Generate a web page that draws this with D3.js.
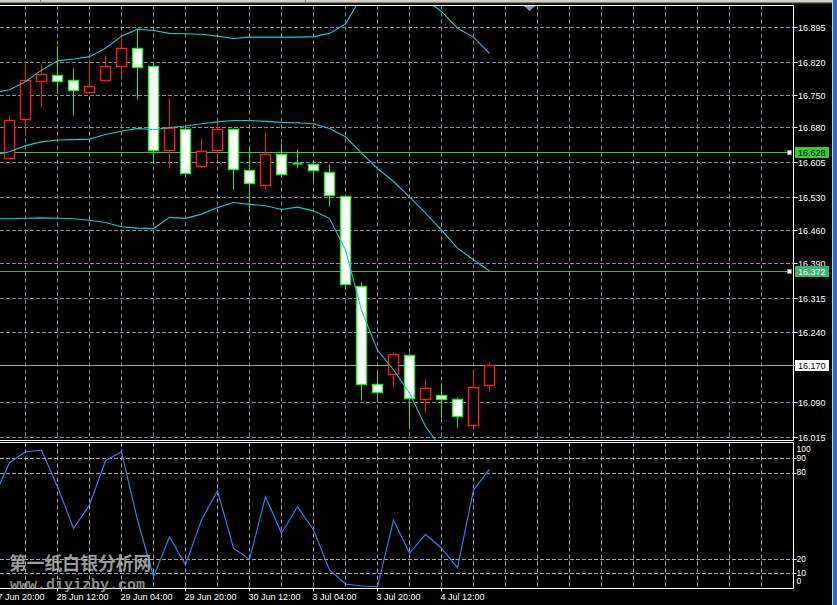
<!DOCTYPE html>
<html><head><meta charset="utf-8">
<script src="https://cdn.jsdelivr.net/npm/d3@7"></script>
<style>body{margin:0;background:#000;overflow:hidden}svg{display:block}</style>
</head><body>
<svg id="c" width="837" height="605"></svg>
<script>
// ---------- DATA ----------
const openP  = [16.614,16.698,16.780,16.792,16.782,16.756,16.781,16.811,16.850,16.811,16.631,16.677,16.597,16.631,16.676,16.589,16.557,16.622,16.604,16.601,16.584,16.532,16.339,16.129,16.150,16.191,16.097,16.105,16.097,16.041,16.127];
const highP  = [16.707,16.823,16.816,16.857,16.808,16.828,16.836,16.882,16.891,16.819,16.744,16.682,16.658,16.695,16.678,16.638,16.670,16.646,16.634,16.610,16.602,16.534,16.348,16.156,16.198,16.195,16.140,16.131,16.102,16.159,16.177];
const lowP   = [16.612,16.671,16.726,16.755,16.707,16.753,16.781,16.791,16.742,16.604,16.592,16.577,16.592,16.613,16.549,16.500,16.549,16.574,16.592,16.565,16.511,16.333,16.094,16.090,16.124,16.037,16.070,16.057,16.037,16.041,16.115];
const closeP = [16.696,16.782,16.795,16.779,16.760,16.769,16.811,16.850,16.809,16.631,16.678,16.582,16.629,16.677,16.590,16.560,16.623,16.581,16.604,16.589,16.534,16.344,16.129,16.112,16.193,16.099,16.120,16.097,16.060,16.122,16.170];
// indicator series start one bar earlier (bar -1)
const bbUpper  = [16.754,16.761,16.778,16.803,16.823,16.827,16.832,16.850,16.876,16.891,16.888,16.882,16.881,16.880,16.876,16.871,16.874,16.874,16.874,16.874,16.875,16.882,16.902,16.961,16.982,16.968,16.953,16.954,16.929,16.893,16.874,16.839];
const bbMiddle = [16.621,16.628,16.641,16.649,16.653,16.654,16.655,16.665,16.672,16.678,16.675,16.680,16.683,16.688,16.692,16.695,16.695,16.693,16.691,16.690,16.688,16.678,16.660,16.625,16.592,16.564,16.531,16.496,16.460,16.421,16.396,16.372];
const bbLower  = [16.484,16.484,16.485,16.486,16.485,16.484,16.481,16.476,16.467,16.464,16.463,16.487,16.485,16.494,16.508,16.519,16.515,16.512,16.504,16.509,16.501,16.485,16.417,16.288,16.202,16.160,16.110,16.038,15.991,15.949,15.918,15.905];
const stochK   = [62.3,86.8,94.4,95.4,70.1,41.3,57.4,88.2,94.4,47.0,7.6,35.4,15.8,47.0,67.4,27.4,19.7,63.2,37.8,56.3,40.1,12.3,2.6,1.2,0.7,47.0,23.9,37.1,27.4,13.9,67.8,82.2];
const priceTicks = [16.895,16.820,16.750,16.680,16.605,16.530,16.460,16.390,16.315,16.240,16.170,16.090,16.015];
const stochTicks = [100,90,80,20,10,0];
const stochLevels = [90,80,20,10];
const timeLabels = ["27 Jun 20:00","28 Jun 12:00","29 Jun 04:00","29 Jun 20:00","30 Jun 12:00","3 Jul 04:00","3 Jul 20:00","4 Jul 12:00"];
const timeLabelBars = [-1,3,7,11,15,19,23,27];
const levelLines = [16.628, 16.372];
const watermark = ["第一纸白银分析网","www.diyizby.com"];

// ---------- LAYOUT ----------
const svg = d3.select("#c");
const W = 837, H = 605;
const mainTop = 5.5, mainBot = 440.5, subTop = 442.5, subBot = 588.5, plotR = 793.5;
const x = d3.scaleLinear().domain([0, 48]).range([9.5, 9.5 + 16 * 48]);
const y = d3.scaleLinear().domain([16.015, 16.895]).range([437.3, 27.3]);
const ys = d3.scaleLinear().domain([0, 100]).range([587.7, 443.7]);
const cr = v => Math.round(v) + 0.5;
const FONT = "'Liberation Sans', Arial, sans-serif";
const FS = 9;
const GRID = "#7d8a9c";
const BULL = "#ff1a1a", BEAR = "#22ee22", BAND = "#10cbd6";

svg.append("rect").attr("width", W).attr("height", H).attr("fill", "#000");
// window frame bits
svg.append("rect").attr("x",0).attr("y",0).attr("width",W).attr("height",2.5).attr("fill","#d4d0c8");
svg.append("rect").attr("x",0).attr("y",2.5).attr("width",W).attr("height",0.8).attr("fill","#8a8a8a");
[40,305].forEach(v=>svg.append("rect").attr("x",v).attr("y",0).attr("width",1).attr("height",3).attr("fill","#808080"));
svg.append("rect").attr("x",832).attr("y",0).attr("width",1).attr("height",H).attr("fill","#c8d4f0");
svg.append("rect").attr("x",833).attr("y",0).attr("width",4).attr("height",H).attr("fill","#2f63db");

const defs = svg.append("defs");
defs.append("clipPath").attr("id","clipMain").append("rect").attr("x",0).attr("y",mainTop).attr("width",plotR).attr("height",mainBot-mainTop);
defs.append("clipPath").attr("id","clipSub").append("rect").attr("x",0).attr("y",subTop).attr("width",plotR).attr("height",subBot-subTop);

// vertical grid (every 2 bars)
const gridBars = d3.range(1, 48, 2);
const vg = svg.append("g");
gridBars.forEach(b => {
  vg.append("line").attr("x1",x(b)).attr("x2",x(b)).attr("y1",mainTop).attr("y2",mainBot)
    .attr("stroke",GRID).attr("stroke-dasharray","4,3");
  vg.append("line").attr("x1",x(b)).attr("x2",x(b)).attr("y1",subTop).attr("y2",subBot)
    .attr("stroke","#9aa4b2").attr("stroke-dasharray","4,3");
});
// horizontal grid main
priceTicks.forEach(p => {
  svg.append("line").attr("x1",0).attr("x2",plotR).attr("y1",cr(y(p))).attr("y2",cr(y(p)))
    .attr("stroke",GRID).attr("stroke-dasharray","4,2");
});
// horizontal levels sub
stochLevels.forEach(v => {
  svg.append("line").attr("x1",0).attr("x2",plotR).attr("y1",cr(ys(v))).attr("y2",cr(ys(v)))
    .attr("stroke","#9aa4b2").attr("stroke-dasharray","4,2");
});

// level lines
const lvlColors = ["#33cc33","#3cb371"];
levelLines.forEach((v,i) => {
  svg.append("line").attr("x1",0).attr("x2",789).attr("y1",cr(y(v))).attr("y2",cr(y(v)))
    .attr("stroke",lvlColors[i]).attr("stroke-width",1);
  svg.append("rect").attr("x",787.5).attr("y",cr(y(v))-2).attr("width",4).attr("height",4)
    .attr("fill","#fff").attr("stroke",lvlColors[i]).attr("stroke-width",0.6);
});
// bid line
const bid = closeP[closeP.length-1];
svg.append("line").attr("x1",0).attr("x2",plotR).attr("y1",cr(y(bid))).attr("y2",cr(y(bid)))
  .attr("stroke","#a0a0a0");

// candles
const gMain = svg.append("g").attr("clip-path","url(#clipMain)");
const idx = d3.range(openP.length);
gMain.selectAll("line.wick").data(idx).join("line").attr("class","wick")
  .attr("x1",i=>x(i)).attr("x2",i=>x(i))
  .attr("y1",i=>cr(y(highP[i]))).attr("y2",i=>cr(y(lowP[i])))
  .attr("stroke",i=>closeP[i]>openP[i]?BULL:BEAR);
gMain.selectAll("rect.body").data(idx.filter(i=>closeP[i]!==openP[i])).join("rect").attr("class","body")
  .attr("x",i=>x(i)-5).attr("width",10)
  .attr("y",i=>cr(y(Math.max(openP[i],closeP[i]))))
  .attr("height",i=>Math.max(1,cr(y(Math.min(openP[i],closeP[i])))-cr(y(Math.max(openP[i],closeP[i])))))
  .attr("fill",i=>closeP[i]>openP[i]?"#000":"#fff")
  .attr("stroke",i=>closeP[i]>openP[i]?BULL:BEAR).attr("stroke-width",1.4);
gMain.selectAll("line.doji").data(idx.filter(i=>closeP[i]===openP[i])).join("line").attr("class","doji")
  .attr("x1",i=>x(i)-5).attr("x2",i=>x(i)+5)
  .attr("y1",i=>cr(y(openP[i]))).attr("y2",i=>cr(y(openP[i])))
  .attr("stroke",BEAR).attr("stroke-width",2);

// bollinger bands
const bLine = d3.line().x((d,i)=>x(i-1)).y(d=>y(d));
[bbUpper,bbMiddle,bbLower].forEach(s=>{
  gMain.append("path").attr("d",bLine(s)).attr("fill","none").attr("stroke",BAND).attr("stroke-width",1.1);
});

// stochastic
const gSub = svg.append("g").attr("clip-path","url(#clipSub)");
gSub.append("path").attr("d",d3.line().x((d,i)=>x(i-1)).y(d=>ys(d))(stochK))
  .attr("fill","none").attr("stroke","#1e90ff").attr("stroke-width",1.1);

// borders
const bd = svg.append("g").attr("stroke","#fff").attr("fill","none");
bd.append("path").attr("d",`M0,${mainTop}H${plotR}V${mainBot}H0`);
bd.append("path").attr("d",`M0,${subTop}H${plotR}V${subBot}H0`);

// price axis labels
priceTicks.forEach(p=>{
  const yy = cr(y(p));
  svg.append("line").attr("x1",plotR).attr("x2",plotR+4).attr("y1",yy).attr("y2",yy).attr("stroke","#fff");
  svg.append("text").attr("x",798).attr("y",yy).attr("dy","0.35em").attr("fill","#fff")
    .attr("font-family",FONT).attr("font-size",FS).text(p.toFixed(3));
});
// level labels
const lvlText = ["#000","#fff"];
levelLines.forEach((v,i)=>{
  const yy = cr(y(v));
  svg.append("rect").attr("x",795).attr("y",yy-5.5).attr("width",34).attr("height",11).attr("fill",lvlColors[i]);
  svg.append("text").attr("x",798).attr("y",yy).attr("dy","0.35em").attr("fill",lvlText[i])
    .attr("font-family",FONT).attr("font-size",FS).text(v.toFixed(3));
});
{
  const yy = cr(y(bid));
  svg.append("rect").attr("x",795).attr("y",yy-5.5).attr("width",34).attr("height",11).attr("fill","#fff");
  svg.append("text").attr("x",798).attr("y",yy).attr("dy","0.35em").attr("fill","#000")
    .attr("font-family",FONT).attr("font-size",FS).text(bid.toFixed(3));
}
// stoch axis labels
stochTicks.forEach(v=>{
  const yy = Math.max(subTop+6.5, Math.min(subBot-7.5, ys(v)));
  if (v!==100 && v!==0) svg.append("line").attr("x1",plotR).attr("x2",plotR+3).attr("y1",cr(ys(v))).attr("y2",cr(ys(v))).attr("stroke","#fff");
  svg.append("text").attr("x",796.5).attr("y",yy).attr("dy","0.35em").attr("fill","#fff")
    .attr("font-family",FONT).attr("font-size",8.5).text(v);
});

// time labels
timeLabels.forEach((t,i)=>{
  const xx = x(timeLabelBars[i]);
  svg.append("line").attr("x1",xx).attr("x2",xx).attr("y1",subBot).attr("y2",subBot+3).attr("stroke","#fff");
  svg.append("text").attr("x",xx-1).attr("y",600).attr("fill","#fff")
    .attr("font-family",FONT).attr("font-size",FS).text(t);
});

// shift marker
const sx = x(32.5);
svg.append("path").attr("d",`M${sx-5.5},6 L${sx+5.5},6 L${sx},11 Z`).attr("fill","#8795a8");

// watermark
svg.append("text").attr("x",9).attr("y",570).attr("fill","#b8b8b8").attr("fill-opacity",0.85)
  .attr("font-family","'Noto Sans CJK SC', sans-serif").attr("font-weight","bold").attr("font-size",17.8)
  .text(watermark[0]);
svg.append("text").attr("x",10).attr("y",589).attr("fill","#a8a8a8").attr("fill-opacity",0.85)
  .attr("font-family","'Liberation Mono', monospace").attr("font-weight","bold").attr("font-size",15)
  .text(watermark[1]);
</script>
</body></html>
